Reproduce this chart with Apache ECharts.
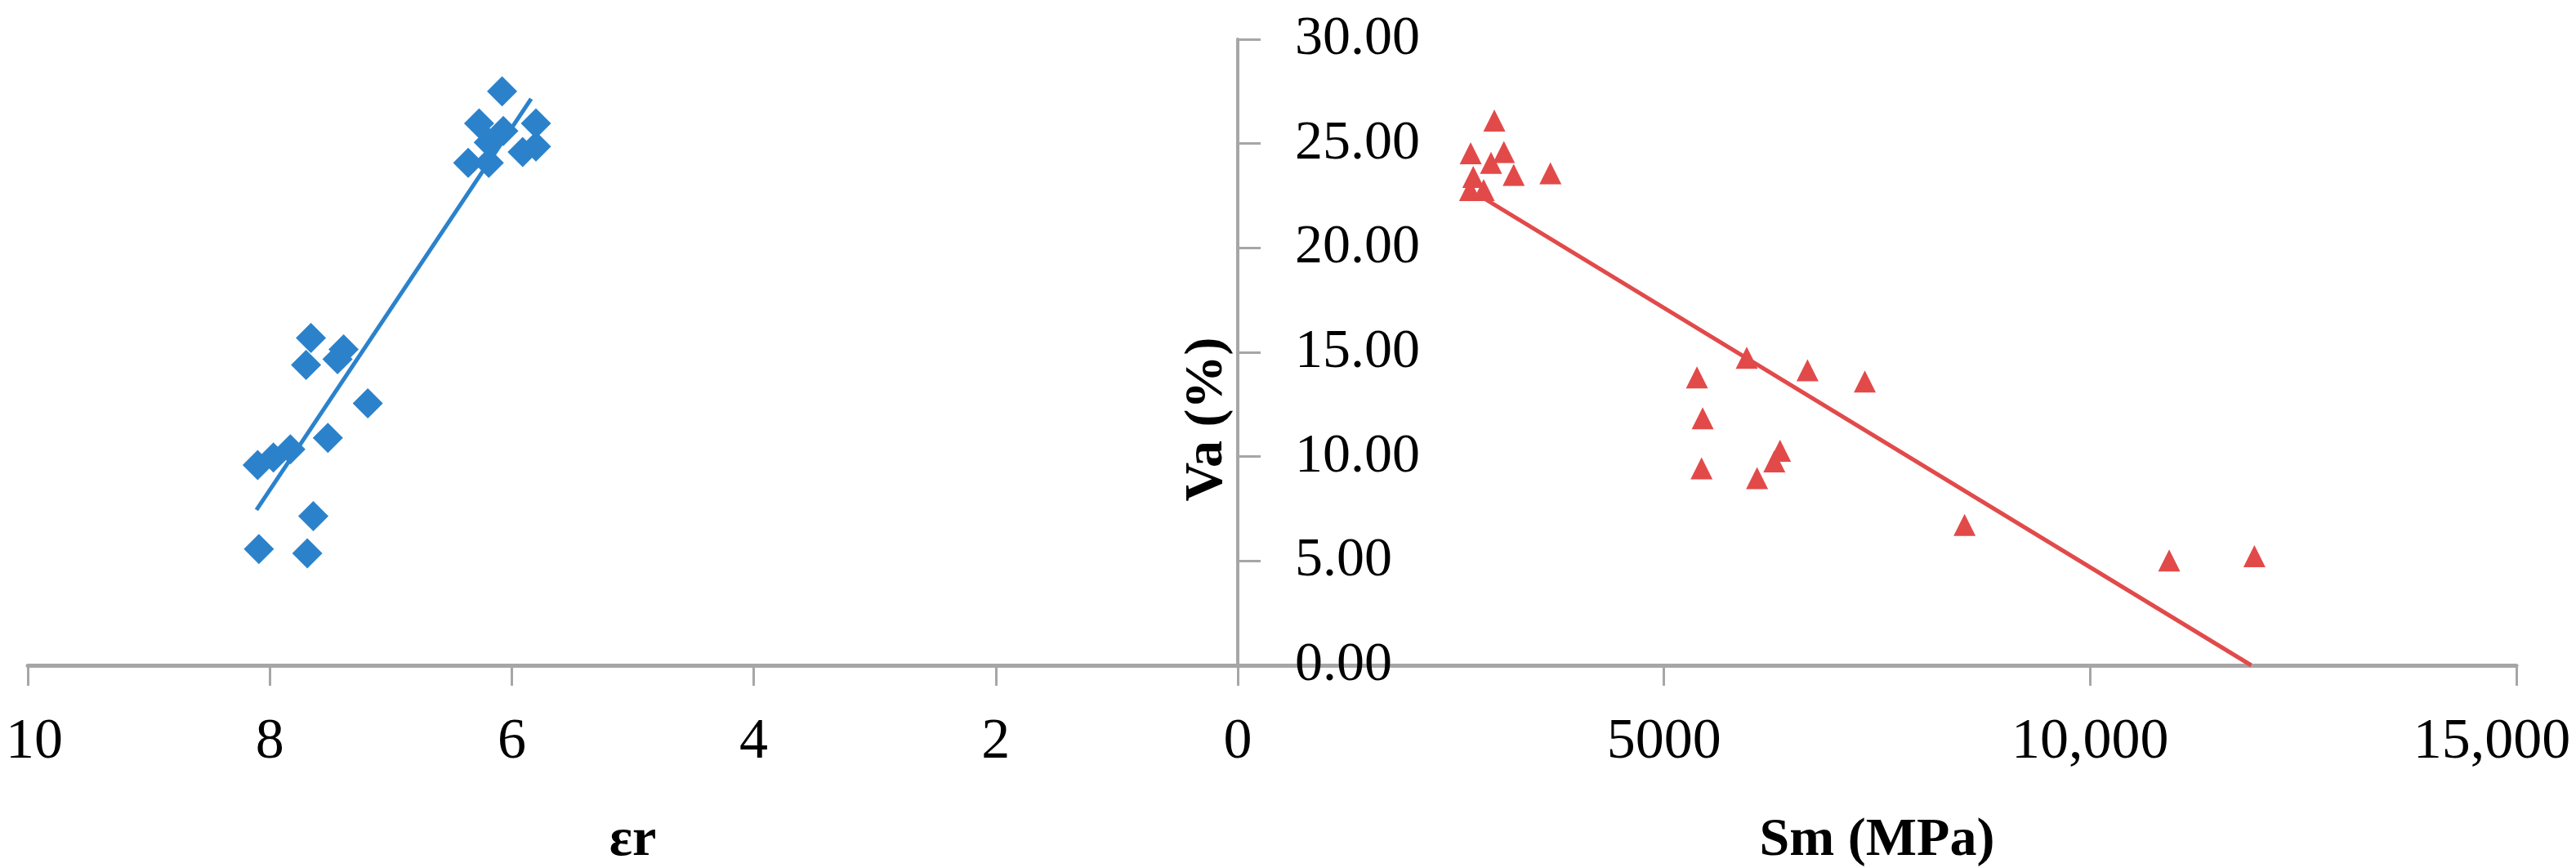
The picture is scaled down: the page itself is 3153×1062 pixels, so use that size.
<!DOCTYPE html>
<html>
<head>
<meta charset="utf-8">
<script src="https://cdn.jsdelivr.net/npm/echarts@6/dist/echarts.min.js"></script>
<style>
  html, body { margin: 0; padding: 0; background: #fff; }
  #chart { width: 3153px; height: 1062px; }
</style>
</head>
<body>
<div id="chart"></div>
<script>
// left panel: εr vs Va
const blueEr = [6.08, 6.27, 5.80, 6.07, 6.19, 6.36, 6.19, 5.91, 5.80,
  7.66, 7.70, 7.44, 7.39, 7.19, 7.52, 8.10, 7.97, 7.83, 7.64, 8.09, 7.69];
const blueVa = [27.5, 25.97, 25.97, 25.6, 25.06, 24.08, 24.08, 24.6, 24.86,
  15.69, 14.39, 14.67, 15.14, 12.55, 10.9, 9.6, 9.96, 10.35, 7.15, 5.57, 5.37];
const blueTrendEr = [8.11, 5.84];
const blueTrendVa = [7.45, 27.15];

// right panel: Sm vs Va
const redSm = [3010, 2732, 3122, 2971, 3237, 3668, 2763, 2725, 2885,
  5971, 6684, 7357, 5387, 5454, 5441, 6092, 6295, 6362, 8527, 10927, 11927];
const redVa = [26.1, 24.54, 24.6, 24.08, 23.5, 23.58, 23.4, 22.77, 22.77,
  14.74, 14.14, 13.6, 13.8, 11.84, 9.44, 8.97, 9.77, 10.28, 6.73, 5.02, 5.23];
const redTrendSm = [2880, 11890];
const redTrendVa = [22.4, 0];

const zip = (a, b) => a.map((v, i) => [v, b[i]]);

const FONT = "'Liberation Serif', 'Times New Roman', serif";
const AXIS_GREY = "#a6a6a6";

let myChart = echarts.init(document.getElementById("chart"));
myChart.setOption({
  animation: false,
  textStyle: { fontFamily: FONT, color: "#000" },
  grid: [
    { left: 34, right: 1638, top: 48, bottom: 248, outerBoundsMode: "none" },
    { left: 1515, right: 73, top: 48, bottom: 248, outerBoundsMode: "none" },
  ],
  xAxis: [
    {
      gridIndex: 0,
      type: "value",
      inverse: true,
      min: 0,
      max: 10,
      interval: 2,
      name: "εr",
      nameLocation: "middle",
      nameGap: 182,
      nameTextStyle: { fontFamily: FONT, fontSize: 66, fontWeight: "bold", color: "#000" },
      axisLine: { lineStyle: { color: AXIS_GREY, width: 5 } },
      axisTick: { show: true, length: 25, lineStyle: { color: AXIS_GREY, width: 3 } },
      axisLabel: {
        fontFamily: FONT,
        fontSize: 70,
        color: "#000",
        margin: 60,
        // first label sits a bit right of its tick, as in the source
        formatter: (v) => (v === 10 ? "{edge|10}" : String(v)),
        rich: { edge: { fontFamily: FONT, fontSize: 70, color: "#000", padding: [0, 0, 0, 16] } },
      },
      splitLine: { show: false },
    },
    {
      gridIndex: 1,
      type: "value",
      min: 0,
      max: 15000,
      interval: 5000,
      name: "Sm (MPa)",
      nameLocation: "middle",
      nameGap: 182,
      nameTextStyle: { fontFamily: FONT, fontSize: 66, fontWeight: "bold", color: "#000" },
      axisLine: { lineStyle: { color: AXIS_GREY, width: 5 } },
      axisTick: { show: true, length: 25, lineStyle: { color: AXIS_GREY, width: 3 } },
      axisLabel: {
        fontFamily: FONT,
        fontSize: 70,
        color: "#000",
        margin: 60,
        showMinLabel: false,
        formatter: (v) => {
          if (v === 15000) return "{edge|15,000}";
          return v >= 10000 ? v.toLocaleString("en-US") : String(v);
        },
        rich: { edge: { fontFamily: FONT, fontSize: 70, color: "#000", padding: [0, 60, 0, 0] } },
      },
      splitLine: { show: false },
    },
  ],
  yAxis: [
    {
      gridIndex: 0,
      type: "value",
      min: 0,
      max: 30,
      interval: 5,
      show: false,
    },
    {
      gridIndex: 1,
      type: "value",
      min: 0,
      max: 30,
      interval: 5,
      name: "Va (%)",
      nameLocation: "middle",
      nameGap: 4,
      nameRotate: 90,
      nameTextStyle: {
        fontFamily: FONT,
        fontSize: 66,
        fontWeight: "bold",
        color: "#000",
        padding: [0, 164, 0, 0],
      },
      axisLine: { show: true, lineStyle: { color: AXIS_GREY, width: 4 } },
      axisTick: { show: true, inside: true, length: 28, lineStyle: { color: AXIS_GREY, width: 3 } },
      axisLabel: {
        inside: true,
        margin: 70,
        fontFamily: FONT,
        fontSize: 68,
        color: "#000",
        formatter: (v) => v.toFixed(2),
      },
      splitLine: { show: false },
    },
  ],
  series: [
    {
      name: "εr",
      type: "scatter",
      xAxisIndex: 0,
      yAxisIndex: 0,
      symbol: "diamond",
      symbolSize: 37,
      itemStyle: { color: "#2b82cb", opacity: 1 },
      data: zip(blueEr, blueVa),
    },
    {
      name: "εr trend",
      type: "line",
      xAxisIndex: 0,
      yAxisIndex: 0,
      symbol: "none",
      lineStyle: { color: "#2b82cb", width: 5 },
      data: zip(blueTrendEr, blueTrendVa),
    },
    {
      name: "Sm",
      type: "scatter",
      xAxisIndex: 1,
      yAxisIndex: 1,
      symbol: "triangle",
      symbolSize: 27,
      itemStyle: { color: "#e24a4a", opacity: 1 },
      data: zip(redSm, redVa),
    },
    {
      name: "Sm trend",
      type: "line",
      xAxisIndex: 1,
      yAxisIndex: 1,
      symbol: "none",
      lineStyle: { color: "#e24a4a", width: 5 },
      data: zip(redTrendSm, redTrendVa),
    },
  ],
});
</script>
</body>
</html>
